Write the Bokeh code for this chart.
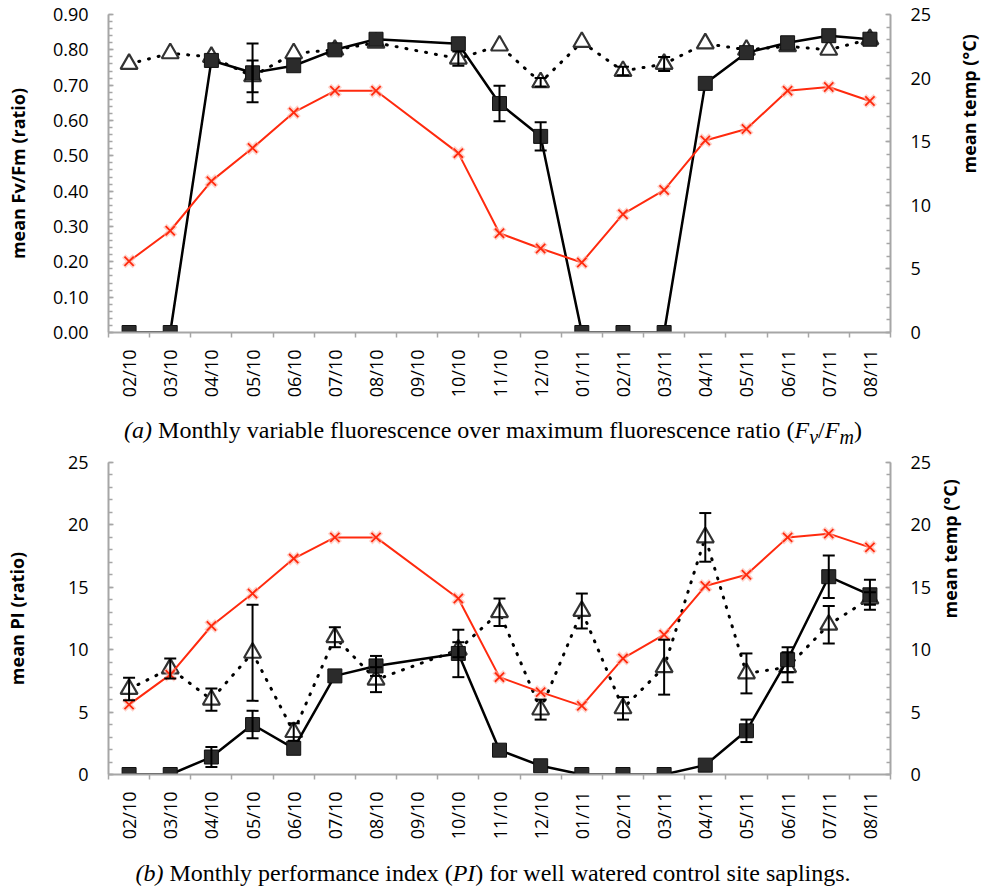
import math
from bokeh.plotting import figure
from bokeh.models import (Range1d, LinearAxis, FixedTicker, NumeralTickFormatter,
                          Whisker, TeeHead, ColumnDataSource, Div)
from bokeh.layouts import column
from bokeh.embed import file_html
from bokeh.resources import INLINE

# ---------------- data ----------------
months = ["02/10", "03/10", "04/10", "05/10", "06/10", "07/10", "08/10", "09/10", "10/10",
          "11/10", "12/10", "01/11", "02/11", "03/11", "04/11", "05/11", "06/11", "07/11", "08/11"]

mean_temp = [5.6, 8.0, 11.9, 14.5, 17.3, 19.0, 19.0, None, 14.1, 7.8, 6.6, 5.5,
             9.3, 11.2, 15.1, 16.0, 19.0, 19.3, 18.2]

# (a) Fv/Fm
fvfm_sq = [0.00, 0.00, 0.77, 0.735, 0.755, 0.80, 0.83, None, 0.817, 0.648, 0.555, 0.00,
           0.00, 0.00, 0.705, 0.792, 0.82, 0.84, 0.83]
fvfm_sq_err = [0, 0, 0, 0.083, 0, 0, 0, None, 0, 0.05, 0.04, 0,
               0, 0, 0, 0, 0, 0, 0]
fvfm_tri = [0.76, 0.79, 0.78, 0.725, 0.79, 0.80, 0.82, None, 0.775, 0.812, 0.708, 0.822,
            0.74, 0.76, 0.818, 0.80, 0.81, 0.80, 0.83]
fvfm_tri_err = [0, 0, 0, 0.045, 0, 0, 0, None, 0.02, 0, 0.012, 0,
                0.012, 0.02, 0, 0, 0, 0, 0]

# (b) PI
pi_sq = [0.0, 0.0, 1.4, 4.0, 2.1, 7.9, 8.7, None, 9.7, 1.95, 0.7, 0.0,
         0.0, 0.0, 0.75, 3.5, 9.2, 15.85, 14.4]
pi_sq_err = [0, 0, 0.8, 1.1, 0, 0, 0.8, None, 1.9, 0, 0, 0,
             0, 0, 0, 0.9, 1.0, 1.7, 1.2]
pi_tri = [6.85, 8.5, 6.0, 9.75, 3.4, 11.0, 7.6, None, 10.0, 13.0, 5.2, 13.1,
          5.3, 8.6, 19.0, 8.1, 8.6, 12.0, 14.1]
pi_tri_err = [0.9, 0.8, 0.9, 3.85, 0.7, 0.8, 1.0, None, 0.6, 1.1, 0.8, 1.4,
              0.9, 2.2, 1.95, 1.6, 1.2, 1.5, 0.5]

fvfm_ticks = [0.0, 0.1, 0.2, 0.3, 0.4, 0.5, 0.6, 0.7, 0.8, 0.9]
pi_ticks = [0, 5, 10, 15, 20, 25]
temp_ticks = [0, 5, 10, 15, 20, 25]

temp_title = "mean temp (°C)"
caption_a = ('<i>(a)</i> Monthly variable fluorescence over maximum fluorescence ratio '
             '(<i>F<sub>v</sub></i>/<i>F<sub>m</sub></i>)')
caption_b = ('<i>(b)</i> Monthly performance index (<i>PI</i>) for well watered control site saplings.')

# ---------------- styling ----------------
FONT = "Open Sans"
GREY = "#a6a6a6"
RED = "#ff2a0e"
W = 996
LEFT = 108


def pts(vals):
    xs, ys = [], []
    for i, v in enumerate(vals):
        if v is not None:
            xs.append(i + 0.5)
            ys.append(v)
    return xs, ys


def err_source(vals, errs):
    x, lo, hi = [], [], []
    for i, (v, e) in enumerate(zip(vals, errs)):
        if v is not None and e:
            x.append(i + 0.5)
            lo.append(v - e)
            hi.append(v + e)
    return ColumnDataSource(dict(x=x, lower=lo, upper=hi))


def style_y(ax, major, minor, standoff_title):
    ax.ticker = FixedTicker(ticks=major, minor_ticks=minor)
    ax.axis_line_color = GREY
    ax.axis_line_width = 2
    ax.major_tick_line_color = GREY
    ax.major_tick_line_width = 1.5
    ax.major_tick_in = 5
    ax.major_tick_out = 0
    ax.minor_tick_line_color = GREY
    ax.minor_tick_line_width = 1.5
    ax.minor_tick_in = 4
    ax.minor_tick_out = 0
    ax.major_label_standoff = 20
    ax.major_label_text_font = FONT
    ax.major_label_text_font_size = "18px"
    ax.major_label_text_color = "black"
    ax.axis_label_text_font = FONT
    ax.axis_label_text_font_size = "18px"
    ax.axis_label_text_font_style = "bold"
    ax.axis_label_text_color = "black"
    ax.axis_label_standoff = standoff_title


def panel(frame_w, frame_h, b_top, b_bottom, y_end, y_major, y_minor, y_fmt, y_title,
          left_std, right_std, sq, sq_err, tri, tri_err):
    n = len(months)
    p = figure(width=W, height=b_top + frame_h + b_bottom,
               x_range=Range1d(0, n), y_range=Range1d(0, y_end),
               output_backend="svg", toolbar_location=None,
               min_border_left=LEFT, min_border_right=W - LEFT - frame_w,
               min_border_top=b_top, min_border_bottom=b_bottom)
    p.extra_y_ranges = {"temp": Range1d(0, 25)}
    p.xgrid.visible = False
    p.ygrid.visible = False
    p.outline_line_color = None

    centers = [i + 0.5 for i in range(n)]
    xa = p.xaxis[0]
    xa.ticker = FixedTicker(ticks=centers, minor_ticks=list(range(n + 1)))
    xa.major_label_overrides = {c: m for c, m in zip(centers, months)}
    xa.major_label_orientation = math.pi / 2
    xa.major_tick_line_color = None
    xa.major_tick_in = 0
    xa.major_tick_out = 0
    xa.minor_tick_line_color = GREY
    xa.minor_tick_line_width = 1.5
    xa.minor_tick_in = 0
    xa.minor_tick_out = 5
    xa.axis_line_color = GREY
    xa.axis_line_width = 2
    xa.major_label_standoff = 12
    xa.major_label_text_font = FONT
    xa.major_label_text_font_size = "18px"
    xa.major_label_text_color = "black"

    ya = p.yaxis[0]
    style_y(ya, y_major, y_minor, left_std)
    ya.formatter = NumeralTickFormatter(format=y_fmt)
    ya.axis_label = y_title

    ra = LinearAxis(y_range_name="temp")
    style_y(ra, temp_ticks, list(range(26)), right_std)
    ra.axis_label = temp_title
    if "axis_label_orientation" in ra.properties():
        ra.axis_label_orientation = math.pi / 2   # read bottom-to-top
    p.add_layout(ra, "right")

    # triangles (dotted)
    tx, ty = pts(tri)
    p.line(tx, ty, line_color="black", line_width=3, line_dash="1 9", line_cap="round")
    p.scatter(tx, ty, marker="triangle", size=17, fill_color="white",
              line_color="#333333", line_width=2.2)
    # squares (solid)
    sx, sy = pts(sq)
    p.line(sx, sy, line_color="black", line_width=2.5)
    p.scatter(sx, sy, marker="square", size=14, fill_color="#2b2b2b",
              line_color="#111111", line_width=1)
    # temperature
    mx, my = pts(mean_temp)
    p.line(mx, my, line_color=RED, line_width=2, y_range_name="temp")
    p.scatter(mx, my, marker="x", size=15, line_color="#ffb4a6", line_width=5,
              line_alpha=0.6, y_range_name="temp")
    p.scatter(mx, my, marker="x", size=13, line_color=RED, line_width=1.8,
              y_range_name="temp")

    for src in (err_source(tri, tri_err), err_source(sq, sq_err)):
        w = Whisker(source=src, base="x", upper="upper", lower="lower",
                    line_color="black", line_width=2, level="overlay",
                    upper_head=TeeHead(size=12, line_width=2, line_color="black"),
                    lower_head=TeeHead(size=12, line_width=2, line_color="black"))
        p.add_layout(w)
    return p


fv_minor = [round(i * 0.02, 2) for i in range(46)]
pi_minor = list(range(26))

p1 = panel(782, 318, 14, 70, 0.9, fvfm_ticks, fv_minor, "0.00", "mean Fv/Fm (ratio)",
           20, 35, fvfm_sq, fvfm_sq_err, fvfm_tri, fvfm_tri_err)
p2 = panel(800, 316, 12, 64, 25, pi_ticks, pi_minor, "0", "mean PI (ratio)",
           36, 16, pi_sq, pi_sq_err, pi_tri, pi_tri_err)


def caption(html, h, pad):
    return Div(text=('<div style="width:%dpx;text-align:center;font-family:\'Liberation Serif\';'
                     'font-size:24px;line-height:20px;padding-top:%dpx;color:#000;'
                     'white-space:nowrap">%s</div>' % (W - 10, pad, html)),
               width=W, height=h, margin=0)


d1 = caption(caption_a, 48, 18)
d2 = caption(caption_b, 50, 21)

layout = column(p1, d1, p2, d2, spacing=0)
open("out.html", "w").write(file_html(layout, INLINE))
